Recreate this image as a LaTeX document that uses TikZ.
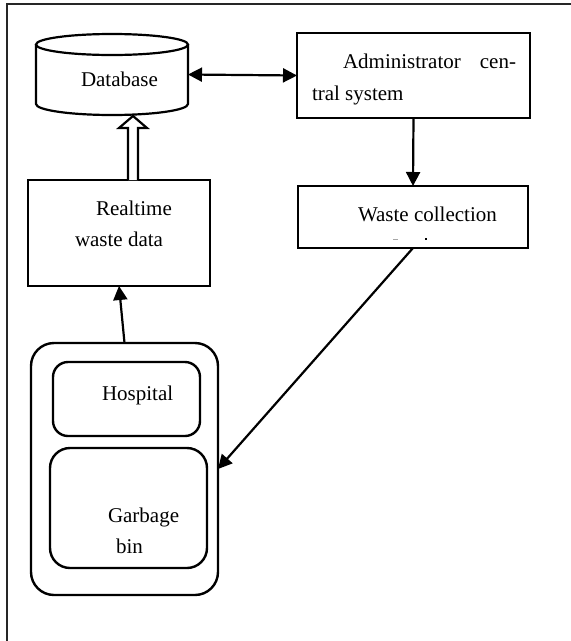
\documentclass[tikz,border=0pt]{standalone}
\usepackage{fontspec}
\setmainfont{Liberation Serif}
\usetikzlibrary{arrows.meta,calc}
\begin{document}
\begin{tikzpicture}[x=1pt,y=-1pt,
  box/.style={draw=black,line width=2.4pt,inner sep=0pt,outer sep=0pt},
  txt/.style={inner sep=0pt,outer sep=0pt,anchor=base west,font=\fontsize{21}{32}\selectfont},
  conn/.style={line width=2.2pt,-{Triangle[length=14pt,width=14pt]}},
  frameline/.style={draw=black!85,line width=1.8pt}]
\useasboundingbox (0,0) rectangle (571,641);
% outer frame (cut at right and bottom)
\draw[frameline] (7,641) -- (7,4) -- (571,4);

% database cylinder
\node[inner sep=0pt,outer sep=0pt,minimum width=152pt,minimum height=81pt] (db) at (112,74.5) {};
\draw[line width=2.2pt] (db.west|-0,44.5) -- (db.west|-0,104)
   arc[start angle=180,end angle=360,x radius=76,y radius=-11]
   -- (db.east|-0,44.5);
\draw[line width=2.2pt] (112,44.5) ellipse [x radius=76,y radius=10.5];
\node[txt] (tdb) at (81,86.5) {Database};

% administrator box
\node[box,minimum width=233pt,minimum height=85pt] (admin) at (413.5,75.5) {};
\node[txt] (ta1) at (343,68) {Administrator};
\node[txt,anchor=base east] (ta2) at (516,68) {cen-};
\node[txt] (ta3) at (312,100) {tral system};

% waste collection box
\node[box,minimum width=230pt,minimum height=62pt] (waste) at (413,217) {};
\node[txt] (tw) at (358,221) {Waste collection};
\fill[black!35] (393,239.2) rectangle (398,240.2);
\fill[black] (425.2,238) rectangle (427.4,240.4);

% realtime box
\node[box,minimum width=182pt,minimum height=106pt] (rt) at (119,233) {};
\node[txt] (tr1) at (96,215) {Realtime};
\node[txt] (tr2) at (75,246) {waste data};

% container
\node[box,rounded corners=23pt,minimum width=187pt,minimum height=252pt] (cont) at (124.5,469) {};
\node[box,rounded corners=15pt,minimum width=147pt,minimum height=74pt] (hosp) at (126.5,399) {};
\node[txt] (th) at (102,400) {Hospital};
\node[box,rounded corners=20pt,minimum width=157pt,minimum height=120pt] (gb) at (128.5,508) {};
\node[txt] (tg1) at (108,522) {Garbage};
\node[txt] (tg2) at (116,553) {bin};

% connectors
\draw[line width=2.2pt,{Triangle[length=14pt,width=14pt]}-{Triangle[length=14pt,width=14pt]}] (db.east) -- (admin.west);
\draw[conn] (admin.south) -- (waste.north);
\draw[conn] (waste.south) -- (cont.east);
\draw[conn] (cont.north) -- (rt.south);

% hollow arrow realtime -> database
\coordinate (hb) at ($(rt.north)+(14,0)$);
\coordinate (ht) at ($(db.south)+(21,1)$);
\draw[line width=2.2pt,line join=miter,fill=white]
  ($(hb)+(-5,0)$) -- ($(ht)+(-5,12)$) -- ($(ht)+(-14,12)$) -- (ht)
  -- ($(ht)+(14,12)$) -- ($(ht)+(5,12)$) -- ($(hb)+(5,0)$);
\end{tikzpicture}
\end{document}
